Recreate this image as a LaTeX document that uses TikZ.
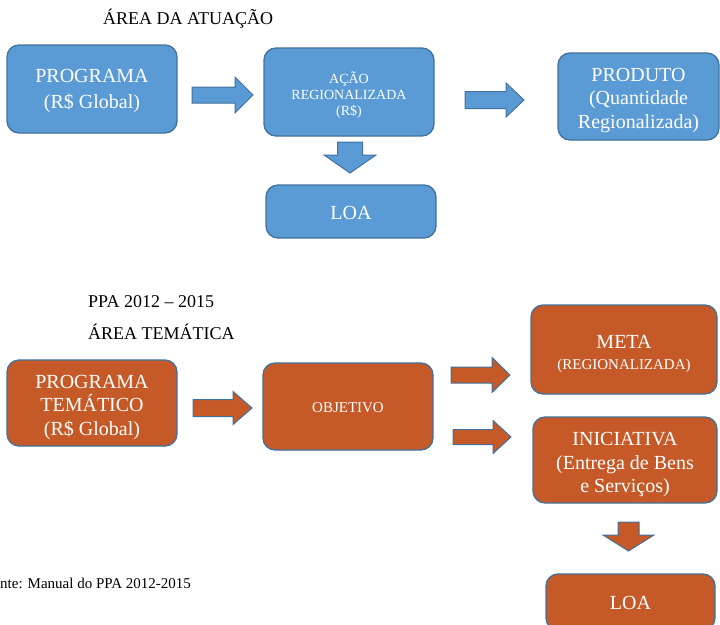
\documentclass[tikz,border=0pt]{standalone}
\usepackage{fontspec}
\setmainfont{Liberation Serif}
\definecolor{bfill}{HTML}{5B9BD5}
\definecolor{ofill}{HTML}{C55A28}
\definecolor{edge}{HTML}{41719C}
\tikzset{
  box/.style={draw=edge, line width=1.3pt, rounded corners=12pt, inner sep=0pt},
  bluebox/.style={box, fill=bfill},
  orangebox/.style={box, fill=ofill},
  boxtext/.style={text=white, align=center, inner sep=0pt, font=\fontsize{20}{23.5}\selectfont},
  smalltext/.style={boxtext, font=\fontsize{14}{16}\selectfont},
  barrow/.style={draw=edge, line width=1pt, line join=miter},
  title/.style={anchor=west, inner sep=0pt, font=\fontsize{18}{20}\selectfont},
}
\begin{document}
\begin{tikzpicture}[x=1pt, y=-1pt]
\useasboundingbox (0,0) rectangle (720,624);
\begin{scope}
\clip (0,0) rectangle (720,624);
% titles
\node[title] (t1) at (103,18.5) {ÁREA DA ATUAÇÃO};
\node[title] (t2) at (88,302) {PPA 2012 -- 2015};
\node[title] (t3) at (88,332) {ÁREA TEMÁTICA};
\node[anchor=west, inner sep=0pt, font=\fontsize{15}{17}\selectfont] (src) at (0,583.5) {nte: Manual do PPA 2012-2015};
% blue boxes
\node[bluebox, minimum width=170pt, minimum height=88pt] (prog) at (92,89) {};
\node[boxtext, font=\fontsize{20}{25.5}\selectfont] (progT) at ([yshift=-2pt]prog.center) {PROGRAMA\\(R\$ Global)};
\node[bluebox, minimum width=170pt, minimum height=88pt] (acao) at (349,92) {};
\node[smalltext] (acaoT) at ([yshift=-3pt]acao.center) {AÇÃO\\REGIONALIZADA\\(R\$)};
\node[bluebox, minimum width=170pt, minimum height=53pt] (loa1) at (351,211.5) {};
\node[boxtext] (loa1T) at ([yshift=-1.5pt]loa1.center) {LOA};
\node[bluebox, minimum width=161pt, minimum height=87pt] (prod) at (638.5,96.5) {};
\node[boxtext] (prodT) at ([yshift=-4pt]prod.center) {PRODUTO\\(Quantidade\\Regionalizada)};
% orange boxes
\node[orangebox, minimum width=170pt, minimum height=86pt] (ptem) at (92,403) {};
\node[boxtext] (ptemT) at ([yshift=-4.5pt]ptem.center) {PROGRAMA\\TEMÁTICO\\(R\$ Global)};
\node[orangebox, minimum width=170pt, minimum height=87pt] (obj) at (348,406.5) {};
\node[boxtext, font=\fontsize{15}{17}\selectfont] (objT) at ([yshift=-1pt]obj.center) {OBJETIVO};
\node[orangebox, minimum width=186pt, minimum height=89pt] (meta) at (624,349.5) {};
\node[boxtext, font=\fontsize{20}{21}\selectfont] (metaT) at ([yshift=-4pt]meta.center) {META\\{\fontsize{15}{17}\selectfont(REGIONALIZADA)}};
\node[orangebox, minimum width=184pt, minimum height=86pt] (inic) at (625,460) {};
\node[boxtext] (inicT) at ([yshift=-4.5pt]inic.center) {INICIATIVA\\(Entrega de Bens\\e Serviços)};
\node[orangebox, minimum width=169pt, minimum height=56pt] (loa2) at (630.5,602) {};
\node[boxtext] (loa2T) at ([yshift=-1pt]loa2.center) {LOA};
% block arrows (blue)
\draw[barrow, fill=bfill] (192,87) -- (235,87) -- (235,77) -- (253,95) -- (235,113) -- (235,103) -- (192,103) -- cycle;
\draw[barrow, fill=bfill] (465,91.5) -- (506,91.5) -- (506,83) -- (524,100) -- (506,117) -- (506,108.5) -- (465,108.5) -- cycle;
\draw[barrow, fill=bfill] (337.5,142) -- (337.5,155) -- (324,155) -- (350,173) -- (376,155) -- (362.5,155) -- (362.5,142) -- cycle;
% block arrows (orange)
\draw[barrow, fill=ofill] (193,399.5) -- (233,399.5) -- (233,391.5) -- (252,408) -- (233,424.5) -- (233,416.5) -- (193,416.5) -- cycle;
\draw[barrow, fill=ofill] (451,367) -- (492,367) -- (492,357.5) -- (510,375) -- (492,392.5) -- (492,383) -- (451,383) -- cycle;
\draw[barrow, fill=ofill] (453,429.5) -- (493,429.5) -- (493,420.5) -- (511,437) -- (493,453.5) -- (493,444.5) -- (453,444.5) -- cycle;
\draw[barrow, fill=ofill] (618,522) -- (618,535) -- (603,535) -- (628.5,551) -- (654,535) -- (639,535) -- (639,522) -- cycle;
\end{scope}
\end{tikzpicture}
\end{document}
